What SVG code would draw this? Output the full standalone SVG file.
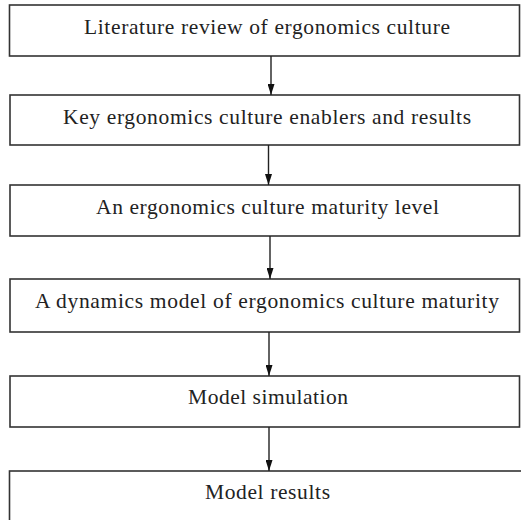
<svg xmlns="http://www.w3.org/2000/svg" width="521" height="520" viewBox="0 0 521 520">
<defs>
<marker id="ah" markerWidth="11" markerHeight="7" refX="11" refY="3.5" orient="auto" markerUnits="userSpaceOnUse" viewBox="0 0 11 7">
<path d="M0,0 L11,3.5 L0,7 Z" fill="#111"/>
</marker>
</defs>
<style>
.box{fill:#fff;stroke:#333;stroke-width:1.6}
.t{font-family:'Liberation Serif',serif;font-size:21.5px;fill:#222;text-anchor:middle}
.c{stroke:#222;stroke-width:1.4;fill:none}
</style>
<rect width="521" height="520" fill="#fff"/>
<g id="n1"><rect class="box" x="9.5" y="5" width="510" height="51"/><text class="t" x="267" y="33.5" textLength="366" lengthAdjust="spacing">Literature review of ergonomics culture</text></g>
<g id="n2"><rect class="box" x="10" y="95" width="509.5" height="50"/><text class="t" x="267" y="123.5" textLength="408" lengthAdjust="spacing">Key ergonomics culture enablers and results</text></g>
<g id="n3"><rect class="box" x="10" y="185" width="509.5" height="51"/><text class="t" x="267.5" y="213.5" textLength="343" lengthAdjust="spacing">An ergonomics culture maturity level</text></g>
<g id="n4"><rect class="box" x="10" y="279" width="509.5" height="53"/><text class="t" x="267" y="307.5" textLength="464" lengthAdjust="spacing">A dynamics model of ergonomics culture maturity</text></g>
<g id="n5"><rect class="box" x="10" y="376" width="509.5" height="51"/><text class="t" x="268" y="403.5" textLength="160" lengthAdjust="spacing">Model simulation</text></g>
<g id="n6"><rect class="box" x="9.5" y="471" width="520" height="60"/><text class="t" x="267.5" y="498.5" textLength="125" lengthAdjust="spacing">Model results</text></g>
<g id="connectors">
<line class="c" x1="271" y1="56" x2="271" y2="95" marker-end="url(#ah)"/>
<line class="c" x1="268.5" y1="145" x2="268.5" y2="185" marker-end="url(#ah)"/>
<line class="c" x1="270" y1="236" x2="270" y2="279" marker-end="url(#ah)"/>
<line class="c" x1="269" y1="332" x2="269" y2="376" marker-end="url(#ah)"/>
<line class="c" x1="269" y1="427" x2="269" y2="471" marker-end="url(#ah)"/>
</g>
</svg>
